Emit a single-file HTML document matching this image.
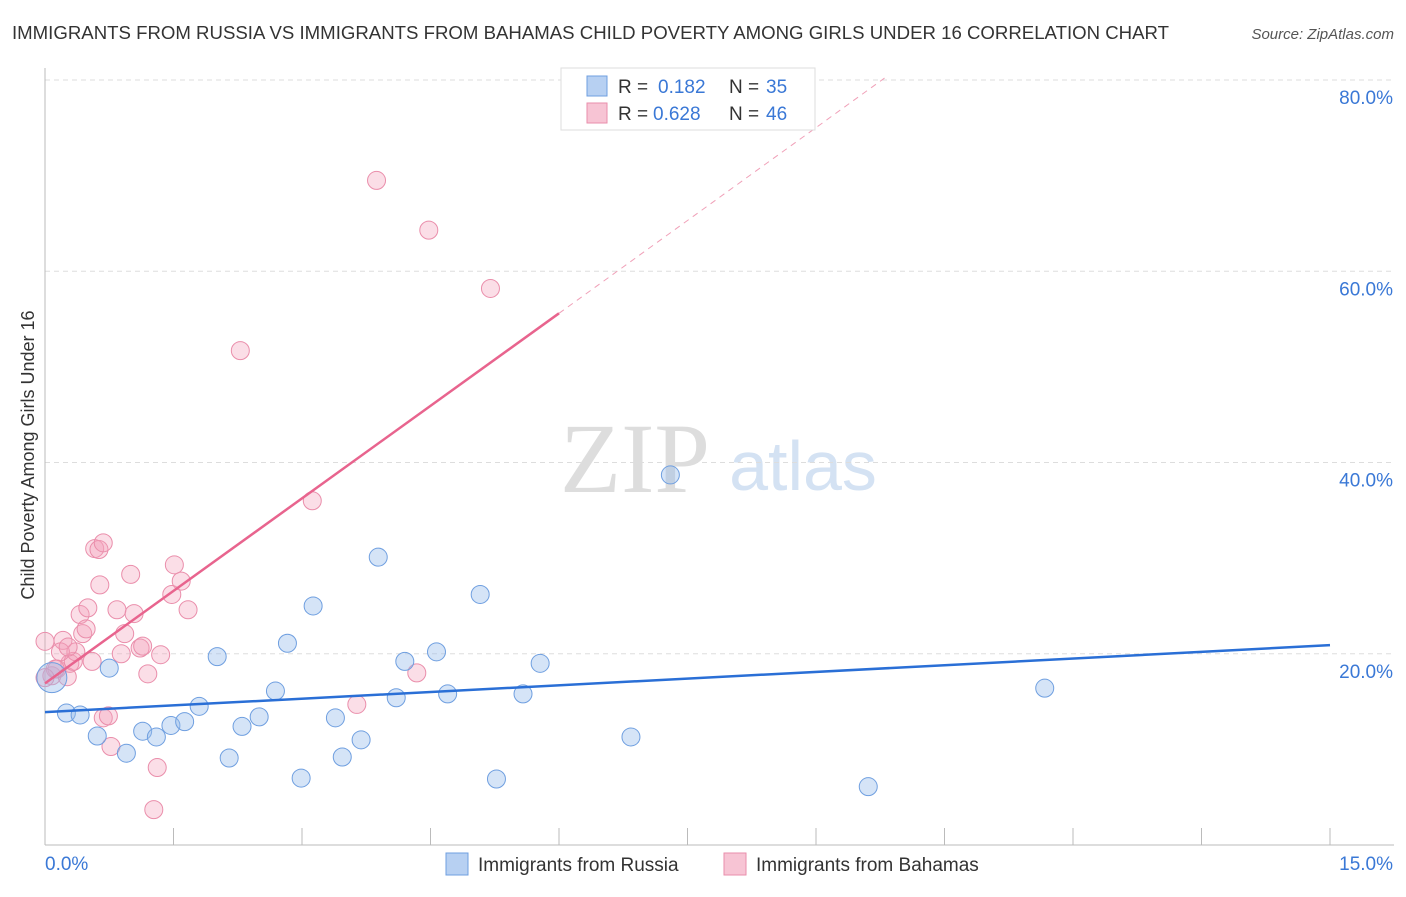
<!DOCTYPE html>
<html><head><meta charset="utf-8"><style>
body{margin:0;background:#fff;font-family:"Liberation Sans",sans-serif}
</style></head><body>
<svg id="c" width="1406" height="892" font-family="Liberation Sans, sans-serif">
<text x="12" y="39" font-size="18" fill="#333" textLength="1157" lengthAdjust="spacingAndGlyphs">IMMIGRANTS FROM RUSSIA VS IMMIGRANTS FROM BAHAMAS CHILD POVERTY AMONG GIRLS UNDER 16 CORRELATION CHART</text>
<text x="1394" y="39" font-size="15" fill="#555" font-style="italic" text-anchor="end">Source: ZipAtlas.com</text>
<text x="635" y="492" font-size="100" fill="#ddd" style="font-family:'Liberation Serif',serif" text-anchor="middle">ZIP</text>
<text x="803" y="490" font-size="70" fill="#d4e2f3" text-anchor="middle">atlas</text>
<text transform="translate(34,455) rotate(-90)" font-size="18" fill="#333" text-anchor="middle">Child Poverty Among Girls Under 16</text>
<g id="grid"></g><g id="pts"></g><g id="lines"></g>
<g>
<rect x="561" y="68" width="254" height="62" fill="#fff" stroke="#ddd"/>
<rect x="587" y="76" width="20" height="20" fill="#b7d0f2" stroke="#6f9fe0"/>
<rect x="587" y="103" width="20" height="20" fill="#f7c4d4" stroke="#ea8eab"/>
<text x="618" y="93" font-size="19" fill="#333">R =</text>
<text x="658" y="93" font-size="19" fill="#3a78d6">0.182</text>
<text x="729" y="93" font-size="19" fill="#333">N =</text>
<text x="766" y="93" font-size="19" fill="#3a78d6">35</text>
<text x="618" y="120" font-size="19" fill="#333">R =</text>
<text x="653" y="120" font-size="19" fill="#3a78d6">0.628</text>
<text x="729" y="120" font-size="19" fill="#333">N =</text>
<text x="766" y="120" font-size="19" fill="#3a78d6">46</text>
</g>
<g>
<rect x="446" y="853" width="22" height="22" fill="#b7d0f2" stroke="#6f9fe0"/>
<text x="478" y="871" font-size="19" fill="#333">Immigrants from Russia</text>
<rect x="724" y="853" width="22" height="22" fill="#f7c4d4" stroke="#ea8eab"/>
<text x="756" y="871" font-size="19" fill="#333">Immigrants from Bahamas</text>
</g>
</svg>
<script>
const yTicks=[20,40,60,80];
const xTickLabels=["0.0%","15.0%"];
const russiaX=[0.08,0.25,0.41,0.61,0.75,0.95,1.14,1.30,1.47,1.63,1.80,2.01,2.15,2.30,2.50,2.69,2.83,2.99,3.13,3.39,3.47,3.69,3.89,4.10,4.20,4.57,4.70,5.08,5.27,5.58,5.78,6.84,7.30,9.61,11.67];
const russiaY=[17.5,13.8,13.6,11.4,18.5,9.6,11.9,11.3,12.5,12.9,14.5,19.7,9.1,12.4,13.4,16.1,21.1,7.0,25.0,13.3,9.2,11.0,30.1,15.4,19.2,20.2,15.8,26.2,6.9,15.8,19.0,11.3,38.7,6.1,16.4];
const bahamasX=[0,0.08,0.14,0.21,0.26,0.29,0.33,0.36,0.41,0.44,0.48,0.50,0.55,0.58,0.63,0.64,0.68,0.68,0.74,0.77,0.84,0.89,0.93,1.00,1.04,1.11,1.14,1.20,1.31,1.27,1.35,1.48,1.51,1.59,1.67,2.28,3.12,3.64,3.87,4.34,4.48,5.20,0.12,0.18,0.27,0];
const bahamasY=[21.3,17.7,18.4,21.4,17.6,19.0,19.2,20.2,24.1,22.1,22.6,24.8,19.2,31.0,30.9,27.2,31.6,13.3,13.5,10.3,24.6,20.0,22.1,28.3,24.2,20.6,20.8,17.9,8.1,3.7,19.9,26.2,29.3,27.6,24.6,51.7,36.0,14.7,69.5,18.0,64.3,58.2,18.4,20.2,20.7,17.5];
const russiaTrend=[13.9,20.9];
const bahamasTrend=[16.9,55.6,80.2];
const NS="http://www.w3.org/2000/svg";
const X=v=>45+v/15*1285, Y=v=>845-v*9.5625;
function mk(t,a,p){const e=document.createElementNS(NS,t);for(const k in a)e.setAttribute(k,a[k]);p.appendChild(e);return e;}
const grid=document.getElementById('grid');
yTicks.forEach(t=>{
 const l=mk('line',{x1:45,x2:1394,y1:Y(t),y2:Y(t),stroke:'#ddd','stroke-dasharray':'5,4'},grid);
 
 
 const tx=mk('text',{x:1393,y:Y(t)+24,'font-size':19,fill:'#3a78d6','text-anchor':'end'},grid);tx.textContent=t.toFixed(1)+'%';
 
 
});
mk('line',{x1:45,x2:45,y1:68,y2:845,stroke:'#bbb'},grid);
mk('line',{x1:45,x2:1394,y1:845,y2:845,stroke:'#bbb'},grid);
for(let i=0;i<=10;i++)mk('line',{x1:X(i*1.5),x2:X(i*1.5),y1:828,y2:845,stroke:'#bbb'},grid);
xTickLabels.forEach((s,i)=>{const t=mk('text',{x:i?1393:45,y:870,'font-size':19,fill:'#3a78d6','text-anchor':i?'end':'start'},grid);t.textContent=s;
 
 });
const pts=document.getElementById('pts');
bahamasX.forEach((x,i)=>{const c=mk('circle',{cx:X(x),cy:Y(bahamasY[i]),r:9,fill:'rgba(244,160,186,0.35)',stroke:'#ea8eab','stroke-width':1},pts);
 
 });
russiaX.forEach((x,i)=>{const c=mk('circle',{cx:X(x),cy:Y(russiaY[i]),r:i==0?15:9,fill:'rgba(150,188,236,0.4)',stroke:'#6f9fe0','stroke-width':1},pts);
 
 });
const ln=document.getElementById('lines');
let a=mk('line',{x1:X(0),y1:Y(russiaTrend[0]),x2:X(15),y2:Y(russiaTrend[1]),stroke:'#2a6fd6','stroke-width':2.5},ln);


let b=mk('line',{x1:X(0),y1:Y(bahamasTrend[0]),x2:X(6),y2:Y(bahamasTrend[1]),stroke:'#e8648e','stroke-width':2.5},ln);


let d=mk('line',{x1:X(6),y1:Y(bahamasTrend[1]),x2:X(9.8),y2:Y(bahamasTrend[2]),stroke:'#f0a0b8','stroke-width':1,'stroke-dasharray':'6,5'},ln);


</script>
</body></html>
